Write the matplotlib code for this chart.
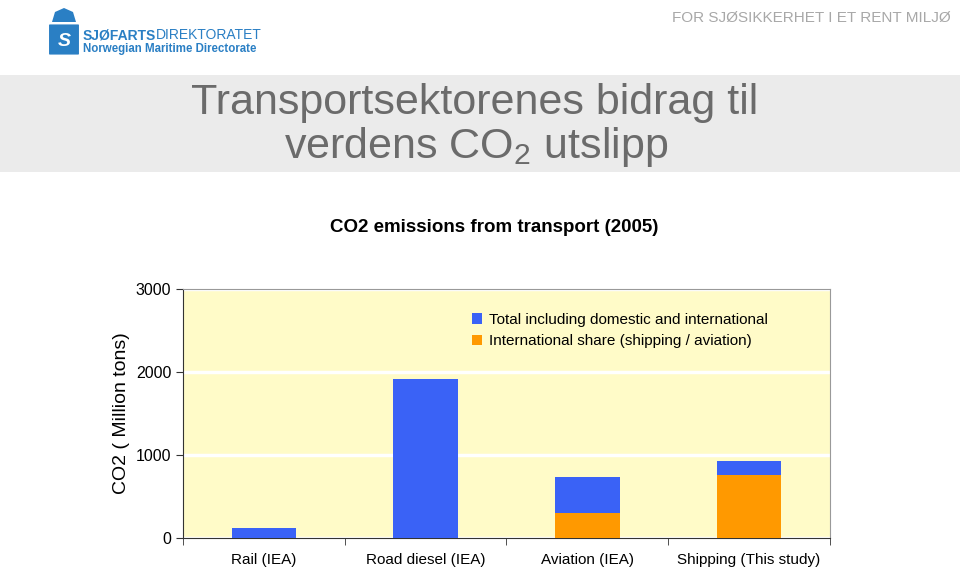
import numpy as np
import matplotlib
matplotlib.use('Agg')
import matplotlib.pyplot as plt
from matplotlib.patches import Rectangle, FancyBboxPatch, Polygon

plt.rcParams['font.family'] = ['Liberation Sans', 'DejaVu Sans']
plt.rcParams['mathtext.fontset'] = 'custom'
plt.rcParams['mathtext.rm'] = 'Liberation Sans'

# data
categories = ['Rail (IEA)', 'Road diesel (IEA)', 'Aviation (IEA)', 'Shipping (This study)']
total = [120, 1920, 730, 930]
international = [0, 0, 300, 755]
y_ticks = [0, 1000, 2000, 3000]

blue = '#3a62f6'
orange = '#ff9900'

W, H = 960, 571
fig = plt.figure(figsize=(W / 100, H / 100), dpi=100)

def fx(px):
    return px / W

def fy(py):
    return 1 - py / H

# header band
fig.patches.append(Rectangle((0, fy(172)), 1, (172 - 75) / H, transform=fig.transFigure,
                             facecolor='#ebebeb', edgecolor='none', zorder=0))
fig.text(fx(475), fy(103), 'Transportsektorenes bidrag til', ha='center', va='center',
         fontsize=31, color='#6b6b6b')
fig.text(fx(476), fy(147), 'verdens CO$_2$ utslipp', ha='center', va='center',
         fontsize=31, color='#6b6b6b')

# top right slogan
fig.text(fx(672), fy(18), 'FOR SJØSIKKERHET I ET RENT MILJØ', ha='left', va='center',
         fontsize=11, color='#a8a8a8')

# logo (simplified)
logo = '#2a7fc4'
fig.patches.append(FancyBboxPatch((fx(50), fy(54)), fx(28), (54 - 25) / H,
                                  boxstyle='round,pad=0.001', transform=fig.transFigure,
                                  facecolor=logo, edgecolor='none'))
fig.patches.append(Polygon([[fx(52), fy(22)], [fx(55), fy(12)], [fx(64), fy(8)],
                            [fx(73), fy(12)], [fx(76), fy(22)]], closed=True,
                           transform=fig.transFigure, facecolor=logo, edgecolor='none'))
fig.text(fx(58), fy(41), 'S', ha='left', va='center', fontsize=14, color='white',
         fontweight='bold', style='italic')
t1 = fig.text(fx(83), fy(35), 'SJØFARTS', ha='left', va='center', fontsize=10,
              color=logo, fontweight='bold')
fig.canvas.draw()
bb = t1.get_window_extent()
fig.text(bb.x1 / W, fy(35), 'DIREKTORATET', ha='left', va='center', fontsize=10,
         color=logo)
fig.text(fx(83), fy(49), 'Norwegian Maritime Directorate', ha='left', va='center',
         fontsize=8.3, color=logo, fontweight='bold')

# chart
ax = fig.add_axes([fx(183), fy(538), fx(830 - 183), (538 - 289) / H])
ax.set_facecolor('#fffbc8')
x = np.arange(len(categories))
ax.bar(x, total, width=0.4, color=blue, zorder=3, label='Total including domestic and international')
ax.bar(x, international, width=0.4, color=orange, zorder=4,
       label='International share (shipping / aviation)')

ax.set_xlim(-0.5, len(categories) - 0.5)
ax.set_ylim(0, 3000)
ax.set_yticks(y_ticks)
ax.set_yticklabels([str(v) for v in y_ticks], fontsize=11.5)
ax.yaxis.grid(True, color='white', linewidth=2.5, zorder=1)
ax.set_axisbelow(True)

ax.set_xticks(x)
ax.set_xticklabels(categories, fontsize=11)
ax.tick_params(axis='x', length=0, pad=11)
ax.set_xticks(np.arange(-0.5, len(categories), 1), minor=True)
ax.tick_params(axis='x', which='minor', length=5, direction='out', color='#333333')
ax.tick_params(axis='y', length=5, direction='out', color='#333333')

for s in ['left', 'bottom']:
    ax.spines[s].set_color('#333333')
for s in ['top', 'right']:
    ax.spines[s].set_color('#999999')
    ax.spines[s].set_linewidth(0.8)

ax.set_ylabel('CO2 ( Million tons)', fontsize=14, labelpad=4)
fig.text(fx(494), fy(227), 'CO2 emissions from transport (2005)', ha='center', va='center',
         fontsize=13.5, fontweight='bold')

ax.legend(loc='upper left', bbox_to_anchor=(0.425, 0.96), frameon=False, fontsize=11,
          handlelength=0.7, handleheight=0.7, handletextpad=0.4, labelspacing=0.5)

fig.savefig('out.png', dpi=100)
